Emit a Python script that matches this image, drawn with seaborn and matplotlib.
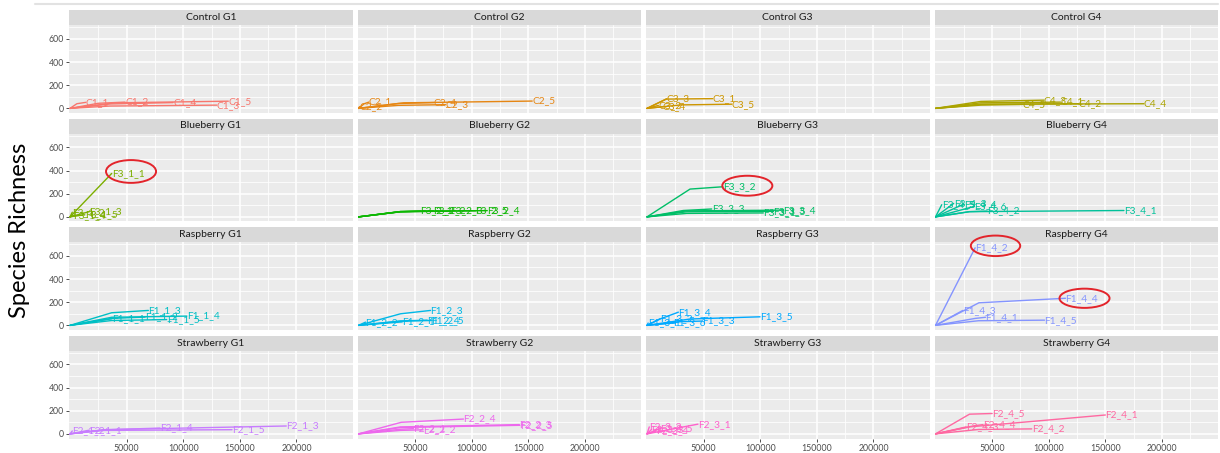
import matplotlib
matplotlib.use("Agg")
import matplotlib.pyplot as plt
from matplotlib.patches import Ellipse, Rectangle
from matplotlib.ticker import FixedLocator, FixedFormatter
import seaborn as sns
import pandas as pd

# ---------------- data ----------------
panel_titles = ["Control G1", "Control G2", "Control G3", "Control G4",
                "Blueberry G1", "Blueberry G2", "Blueberry G3", "Blueberry G4",
                "Raspberry G1", "Raspberry G2", "Raspberry G3", "Raspberry G4",
                "Strawberry G1", "Strawberry G2", "Strawberry G3", "Strawberry G4"]

panel_colors = ["#F8766D", "#E68613", "#CD9600", "#ABA300",
                "#7CAE00", "#0CB702", "#00BE67", "#00C19A",
                "#00BFC4", "#00B8E7", "#00A9FF", "#8494FF",
                "#C77CFF", "#ED68ED", "#FF61CC", "#FF68A1"]

# (sample, sequencing depth points, species richness points)
control_g1 = [
    ("C1_1", [0, 6000, 14000], [0, 40, 52]),
    ("C1_2", [0, 25000, 48600], [0, 44, 54]),
    ("C1_3", [0, 35000, 129600], [0, 20, 28]),
    ("C1_4", [0, 35000, 91000], [0, 38, 50]),
    ("C1_5", [0, 40000, 139800], [0, 48, 62]),
]
control_g2 = [
    ("C2_2", [0, 900], [0, 15]),
    ("C2_1", [0, 5000, 9100], [0, 40, 54]),
    ("C2_4", [0, 35000, 66500], [0, 42, 50]),
    ("C2_3", [0, 35000, 76900], [0, 26, 32]),
    ("C2_5", [0, 40000, 153400], [0, 48, 63]),
]
control_g3 = [
    ("C3_3", [0, 17400], [0, 83]),
    ("C3_1", [0, 17000, 58000], [0, 80, 84]),
    ("C3_5", [0, 30000, 74800], [0, 30, 36]),
    ("C3_2", [0, 10000], [0, 25]),
    ("C3_4", [0, 14000], [0, 14]),
]
control_g4 = [
    ("C4_5", [0, 40000, 76600], [0, 28, 34]),
    ("C4_3", [0, 40000, 95700], [0, 60, 71]),
    ("C4_1", [0, 40000, 110400], [0, 48, 54]),
    ("C4_2", [0, 40000, 126600], [0, 34, 40]),
    ("C4_4", [0, 40000, 184000], [0, 36, 40]),
]
blueberry_g1 = [
    ("F3_1_1", [0, 36800], [0, 375]),
    ("F3_1_2", [0, 2000], [0, 40]),
    ("F3_1_3", [0, 17000], [0, 45]),
    ("F3_1_4", [0, 3000], [0, 12]),
    ("F3_1_5", [0, 13000], [0, 18]),
]
blueberry_g2 = [
    ("F3_2_1", [0, 37000, 54800], [0, 44, 50]),
    ("F3_2_2", [0, 37000, 66300], [0, 46, 52]),
    ("F3_2_3", [0, 37000, 81200], [0, 44, 50]),
    ("F3_2_5", [0, 37000, 103400], [0, 46, 53]),
    ("F3_2_4", [0, 37000, 113700], [0, 45, 54]),
]
blueberry_g3 = [
    ("F3_3_2", [0, 38000, 66900], [0, 240, 260]),
    ("F3_3_3", [0, 32000, 57100], [0, 55, 68]),
    ("F3_3_1", [0, 35000, 102700], [0, 30, 34]),
    ("F3_3_5", [0, 35000, 111600], [0, 44, 48]),
    ("F3_3_4", [0, 35000, 120400], [0, 52, 58]),
]
blueberry_g4 = [
    ("F3_4_5", [0, 5500], [0, 105]),
    ("F3_4_3", [0, 16000], [0, 116]),
    ("F3_4_4", [0, 25000], [0, 110]),
    ("F3_4_6", [0, 34000], [0, 90]),
    ("F3_4_2", [0, 30000, 45600], [0, 45, 50]),
    ("F3_4_1", [0, 30000, 166400], [0, 45, 55]),
]
raspberry_g1 = [
    ("F1_1_3", [0, 36800, 69200], [0, 109, 129]),
    ("F1_1_1", [0, 36800], [0, 57]),
    ("F1_1_2", [0, 36800, 66300], [0, 60, 72]),
    ("F1_1_5", [0, 36800, 85400], [0, 42, 50]),
    ("F1_1_4", [0, 36800, 103100], [0, 70, 80]),
]
raspberry_g2 = [
    ("F1_2_3", [0, 37100, 63600], [0, 100, 129]),
    ("F1_2_2", [0, 6200], [0, 28]),
    ("F1_2_1", [0, 38600], [0, 30]),
    ("F1_2_4", [0, 37000, 60700], [0, 38, 45]),
    ("F1_2_5", [0, 37000, 64000], [0, 36, 42]),
]
raspberry_g3 = [
    ("F1_3_1", [0, 1000], [0, 20]),
    ("F1_3_2", [0, 11500], [0, 57]),
    ("F1_3_6", [0, 23000], [0, 20]),
    ("F1_3_4", [0, 12000, 27700], [0, 57, 114]),
    ("F1_3_3", [0, 30000, 48300], [0, 32, 37]),
    ("F1_3_5", [0, 38000, 99800], [0, 55, 74]),
]
raspberry_g4 = [
    ("F1_4_2", [0, 35000], [0, 670]),
    ("F1_4_4", [0, 38300, 114800], [0, 195, 234]),
    ("F1_4_3", [0, 24100], [0, 129]),
    ("F1_4_1", [0, 35000, 44200], [0, 60, 70]),
    ("F1_4_5", [0, 38000, 96300], [0, 40, 45]),
]
strawberry_g1 = [
    ("F2_1_2", [0, 2000], [0, 25]),
    ("F2_1_1", [0, 17000], [0, 32]),
    ("F2_1_4", [0, 30000, 79500], [0, 35, 50]),
    ("F2_1_5", [0, 30000, 143100], [0, 30, 36]),
    ("F2_1_3", [0, 30000, 191000], [0, 36, 68]),
]
strawberry_g2 = [
    ("F2_2_1", [0, 37000, 48600], [0, 40, 45]),
    ("F2_2_2", [0, 37000, 57000], [0, 30, 35]),
    ("F2_2_4", [0, 37800, 92700], [0, 100, 128]),
    ("F2_2_3", [0, 37000, 142000], [0, 60, 80]),
    ("F2_2_5", [0, 37000, 142500], [0, 55, 74]),
]
strawberry_g3 = [
    ("F2_3_2", [0, 2000], [0, 60]),
    ("F2_3_3", [0, 4000], [0, 38]),
    ("F2_3_4", [0, 8000], [0, 25]),
    ("F2_3_5", [0, 12000], [0, 48]),
    ("F2_3_1", [0, 45000], [0, 84]),
]
strawberry_g4 = [
    ("F2_4_5", [0, 30000, 50000], [0, 170, 176]),
    ("F2_4_1", [0, 30000, 150000], [0, 60, 163]),
    ("F2_4_3", [0, 27000], [0, 60]),
    ("F2_4_4", [0, 34000, 42000], [0, 70, 80]),
    ("F2_4_2", [0, 38000, 85000], [0, 38, 43]),
]

panel_data = [control_g1, control_g2, control_g3, control_g4,
              blueberry_g1, blueberry_g2, blueberry_g3, blueberry_g4,
              raspberry_g1, raspberry_g2, raspberry_g3, raspberry_g4,
              strawberry_g1, strawberry_g2, strawberry_g3, strawberry_g4]

x_major = [50000, 100000, 150000, 200000]
x_major_labels = ["50000", "100000", "150000", "200000"]
x_minor = [25000, 75000, 125000, 175000, 225000]
y_major = [0, 200, 400, 600]
y_major_labels = ["0", "200", "400", "600"]
y_minor = [100, 300, 500, 700]

# highlighted samples (panel index, centre x, centre y, width, height)
highlights = [
    (4, 53900, 392, 44200, 197),
    (6, 88600, 269, 44200, 172),
    (11, 53000, 687, 43600, 177),
    (11, 131600, 234, 44200, 166),
]

# ---------------- drawing ----------------
sns.set_theme(style="darkgrid")
plt.rcParams["font.family"] = ["Lato", "DejaVu Sans"]

W, H = 1220, 453
fig = plt.figure(figsize=(W / 100, H / 100), dpi=100)
fig.patch.set_facecolor("white")

col_left = [69, 357.5, 646, 934.5]
panel_w = 283.5
panel_h = 88
strip_h = 15
row_top = [10, 118.5, 227, 335.5]

axes = []
for i, (title, color, samples) in enumerate(zip(panel_titles, panel_colors, panel_data)):
    r, c = divmod(i, 4)
    top = row_top[r] + strip_h
    ax = fig.add_axes([col_left[c] / W, 1 - (top + panel_h) / H, panel_w / W, panel_h / H])
    axes.append(ax)
    rows = []
    for name, xs, ys in samples:
        for k, (xv, yv) in enumerate(zip(xs, ys)):
            rows.append({"sample": name, "step": k, "depth": xv, "richness": yv})
    df = pd.DataFrame(rows)
    sns.lineplot(data=df, x="depth", y="richness", units="sample", estimator=None,
                 sort=False, color=color, lw=1.0, ax=ax, legend=False)
    for name, xs, ys in samples:
        ax.text(xs[-1], ys[-1], name, color=color, fontsize=7.3, ha="left",
                va="center", clip_on=False)

    ax.set_facecolor("#EBEBEB")
    for s in ax.spines.values():
        s.set_visible(False)
    ax.set_xlim(-900, 249500)
    ax.set_ylim(-40, 720)
    ax.xaxis.set_major_locator(FixedLocator(x_major))
    ax.xaxis.set_minor_locator(FixedLocator(x_minor))
    ax.yaxis.set_major_locator(FixedLocator(y_major))
    ax.yaxis.set_minor_locator(FixedLocator(y_minor))
    ax.xaxis.set_major_formatter(FixedFormatter(x_major_labels))
    ax.yaxis.set_major_formatter(FixedFormatter(y_major_labels))
    ax.grid(which="major", color="white", lw=1.1)
    ax.grid(which="minor", color="white", lw=0.55)
    ax.set_axisbelow(True)
    ax.set_xlabel("")
    ax.set_ylabel("")
    ax.tick_params(which="minor", length=0)
    ax.tick_params(which="major", length=2.2, width=0.6, color="#333333",
                   labelsize=6.3, labelcolor="#4D4D4D", pad=1.5,
                   bottom=True, left=True)
    if c != 0:
        ax.tick_params(axis="y", length=0, labelleft=False)
    if r != 3:
        ax.tick_params(axis="x", length=0, labelbottom=False)

    # facet strip
    ax.add_patch(Rectangle((0, 1), 1, strip_h / panel_h, transform=ax.transAxes,
                           facecolor="#D9D9D9", edgecolor="none", clip_on=False))
    ax.text(0.5, 1 + strip_h / panel_h / 2, title, transform=ax.transAxes,
            ha="center", va="center", fontsize=7.5, color="#1A1A1A")

for idx, cx, cy, w, h in highlights:
    axes[idx].add_patch(Ellipse((cx, cy), w, h, facecolor="none",
                                edgecolor="#E3242B", lw=1.4, clip_on=False, zorder=5))

fig.text(20 / W, 1 - 230 / H, "Species Richness", rotation=90, ha="center",
         va="center", fontsize=17, color="black")

fig.add_artist(plt.Line2D([35 / W, 1218 / W], [1 - 4 / H, 1 - 4 / H],
                          color="#E2E2E2", lw=1.5))

fig.savefig("out.png", dpi=100)
